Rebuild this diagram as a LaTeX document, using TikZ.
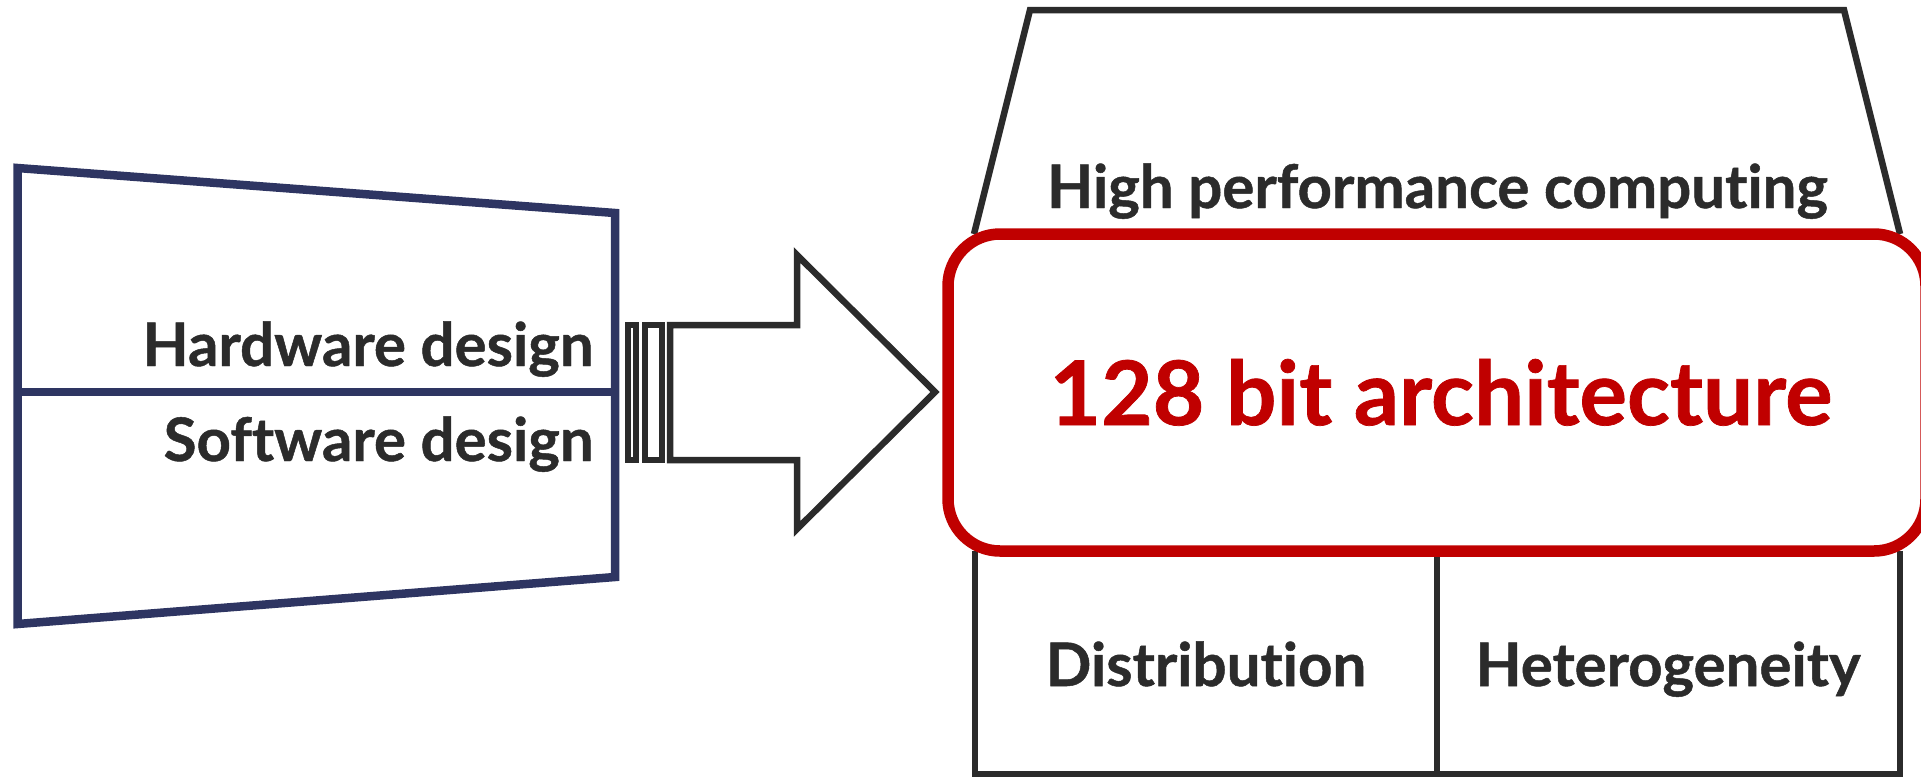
\documentclass[tikz,border=0pt]{standalone}
\usepackage{fontspec}
\setmainfont{Lato}[Ligatures={NoCommon},BoldFeatures={FakeBold=0.8}]
\definecolor{navy}{HTML}{2E3562}
\definecolor{ink}{HTML}{2B2B2B}
\definecolor{brick}{HTML}{C00000}
\begin{document}
\begin{tikzpicture}[x=0.5pt,y=-0.5pt,
  navyline/.style={draw=navy,line width=4.25pt,line join=miter},
  inkline/.style={draw=ink,line width=3.25pt,line join=miter},
  label/.style={inner sep=0pt,text=ink,font=\fontsize{30}{36}\selectfont\bfseries},
  biglabel/.style={inner sep=0pt,text=brick,font=\fontsize{44.5}{52}\selectfont\bfseries}]
\useasboundingbox (0,0) rectangle (1921,777);
\clip (0,0) rectangle (1921,777);

% design funnel on the left
\coordinate (fTL) at (17.5,168);
\coordinate (fTR) at (615,213);
\coordinate (fBR) at (615,577);
\coordinate (fBL) at (17.5,624);
\coordinate (fML) at (17.5,392);
\coordinate (fMR) at (615,392);
\draw[navyline] (fTL) -- (fTR) -- (fBR) -- (fBL) -- cycle;
\draw[navyline] (fML) -- (fMR);
\node[label,anchor=base east] (hw) at (594,366) {Hardware design};
\node[label,anchor=base east] (sw) at (594,461) {Software design};

% striped block arrow
\draw[inkline] (628,325) rectangle (636,460);
\draw[inkline] (645,325) rectangle (662,460);
\draw[inkline] (670,325) -- (797,325) -- (797,255) -- (935,392)
  -- (797,529) -- (797,460) -- (670,460) -- cycle;

% building: roof and lower rooms
\draw[inkline] (974,234) -- (1030,10) -- (1844,10) -- (1900,234);
\draw[inkline] (975,551) -- (975,774) -- (1900,774) -- (1900,551);
\draw[inkline] (1437,551) -- (1437,774);
\node[label,anchor=base] (hpc) at (1437.5,208) {High performance computing};
\node[label,anchor=base] (dist) at (1206,686) {Distribution};
\node[label,anchor=base] (het) at (1668,686) {Heterogeneity};

% central band
\draw[draw=brick,line width=5.75pt,fill=white,rounded corners=26pt]
  (948,234) rectangle (1926,551);
\node[biglabel,anchor=base] (arch) at (1441,425) {128 bit architecture};
\end{tikzpicture}
\end{document}
